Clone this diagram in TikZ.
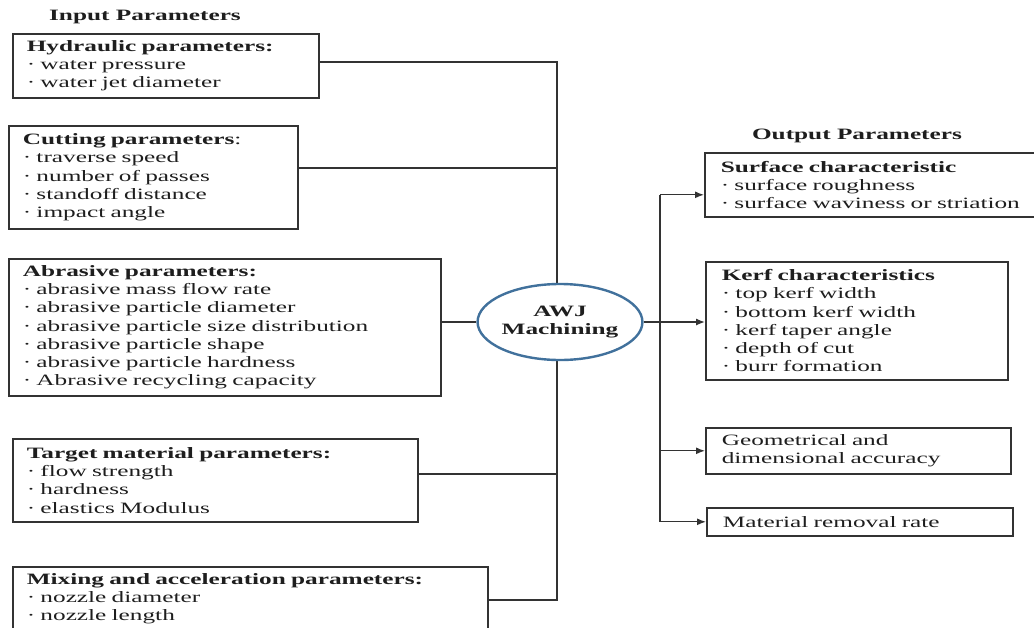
\documentclass[tikz,border=0pt]{standalone}
\usepackage{fontspec}
\setmainfont{Liberation Serif}[FakeStretch=1.6]
\usetikzlibrary{shapes.geometric,arrows.meta}
\definecolor{linec}{HTML}{333333}
\definecolor{txtc}{HTML}{1E1E1E}
\definecolor{ellc}{HTML}{41719C}
\tikzset{
  txtfont/.style={font=\fontsize{15.8}{18.2}\selectfont},
  parambox/.style={draw=linec, line width=1.6pt, align=left, anchor=north west,
    inner xsep=14pt, inner ysep=0pt, text=txtc, txtfont},
  heading/.style={text=txtc, font=\fontsize{15.8}{18.2}\selectfont\bfseries},
  conn/.style={draw=linec, line width=1.3pt},
  arr/.style={conn, -{Latex[length=9pt,width=7pt]}},
}
\begin{document}
\begin{tikzpicture}[x=1pt,y=-1pt]
\useasboundingbox (0,0) rectangle (1034,627);
\clip (0,0) rectangle (1034,627);

% headings
\node[heading] (inhead) at (145,17) {Input Parameters};
\node[heading] (outhead) at (857,136) {Output Parameters};

% input boxes
\node[parambox, text width=278pt, minimum height=64pt] (hyd) at (12,33)
  {\textbf{Hydraulic parameters:}\\ · water pressure\\ · water jet diameter};
\node[parambox, text width=261pt, minimum height=103pt] (cut) at (8,125)
  {\textbf{Cutting parameters}:\\ · traverse speed\\ · number of passes\\ · standoff distance\\ · impact angle};
\node[parambox, text width=404pt, minimum height=137pt] (abr) at (8,258)
  {\textbf{Abrasive parameters:}\\ · abrasive mass flow rate\\ · abrasive particle diameter\\ · abrasive particle size distribution\\ · abrasive particle shape\\ · abrasive particle hardness\\ · Abrasive recycling capacity};
\node[parambox, text width=377pt, minimum height=83pt] (tgt) at (12,438)
  {\textbf{Target material parameters:}\\ · flow strength\\ · hardness\\ · elastics Modulus};
\node[parambox, text width=447pt, minimum height=64pt] (mix) at (12,566)
  {\textbf{Mixing and acceleration parameters:}\\ · nozzle diameter\\ · nozzle length};

% bus
\coordinate (bustop) at (557,62);
\coordinate (busbot) at (557,600);
\coordinate (hydout) at ([yshift=-29pt]hyd.north east);
\coordinate (cutout) at ([yshift=-43pt]cut.north east);
\coordinate (tgtout) at ([yshift=-36pt]tgt.north east);
\coordinate (mixout) at ([yshift=-34pt]mix.north east);
\draw[conn] (hydout) -- (bustop) -- (busbot) -- (mixout);
\draw[conn] (cutout) -- (cutout -| bustop);
\draw[conn] (tgtout) -- (tgtout -| bustop);

% central ellipse
\node[ellipse, draw=ellc, line width=2.4pt, fill=white, minimum width=150pt,
  minimum height=76pt, inner sep=0pt, align=center, text=txtc,
  font=\fontsize{15.8}{18.2}\selectfont\bfseries] (awj) at (560,322) {AWJ\\Machining};
\draw[conn] (abr.east |- awj.west) -- (awj.west);

% output boxes
\node[parambox, inner xsep=16pt, text width=308pt, minimum height=64pt] (surf) at (704,152)
  {\textbf{Surface characteristic}\\ · surface roughness\\ · surface waviness or striation};
\node[parambox, inner xsep=16pt, text width=270pt, minimum height=118pt] (kerf) at (705,261)
  {\textbf{Kerf characteristics}\\ · top kerf width\\ · bottom kerf width\\ · kerf taper angle\\ · depth of cut\\ · burr formation};
\node[parambox, inner xsep=16pt, text width=273pt, minimum height=46pt] (geo) at (705,427)
  {Geometrical and\\ dimensional accuracy};
\node[parambox, inner xsep=16pt, text width=274pt, minimum height=28pt] (mrr) at (706,507)
  {Material removal rate};

% output connectors
\coordinate (obus) at (660,322);
\coordinate (surfin) at ([yshift=-10pt]surf.west);
\draw[arr] (awj.east) -- (awj.east -| kerf.west);
\draw[conn] (surfin -| obus) -- (obus |- mrr.west);
\draw[arr] (surfin -| obus) -- (surfin);
\draw[arr] (obus |- geo.west) -- (geo.west);
\draw[arr] (obus |- mrr.west) -- (mrr.west);
\end{tikzpicture}
\end{document}
